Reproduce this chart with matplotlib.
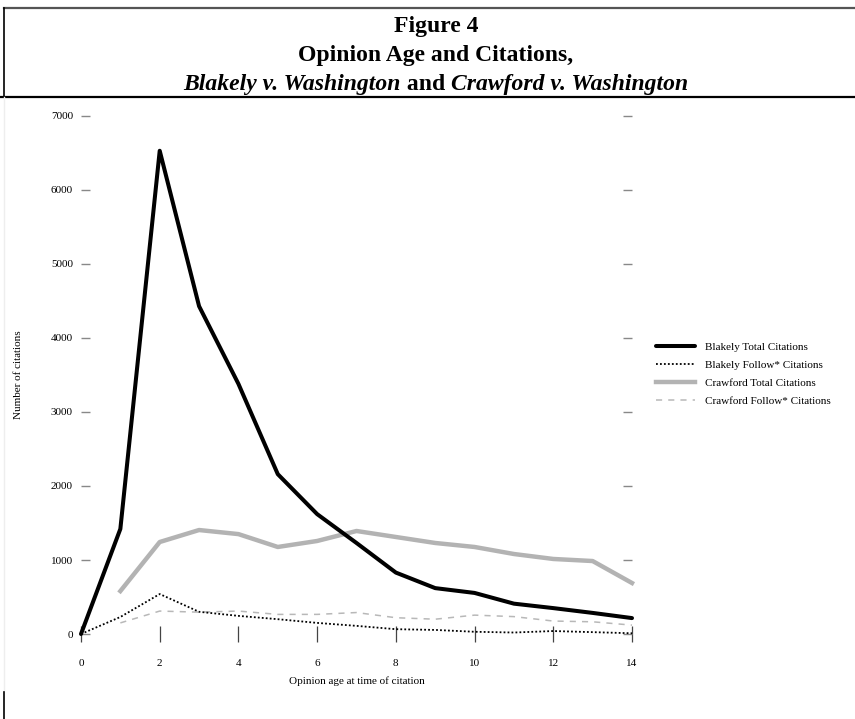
import matplotlib
matplotlib.use("Agg")
import matplotlib.pyplot as plt
from matplotlib.lines import Line2D

# ================================
# DATA
# ================================
age = list(range(0, 15))
age_crawford = list(range(1, 15))

blakely_total = [0, 1420, 6530, 4430, 3380, 2160, 1620, 1230, 830, 620, 555, 410, 350, 285, 215]
blakely_follow = [0, 230, 540, 300, 245, 200, 150, 110, 65, 55, 30, 20, 40, 25, 10]
crawford_total = [580, 1243, 1405, 1350, 1176, 1257, 1392, 1311, 1230, 1176, 1081, 1014, 986, 689]
crawford_follow = [150, 310, 295, 310, 265, 265, 290, 220, 200, 255, 235, 175, 165, 120]

series_labels = ["Blakely Total Citations", "Blakely Follow* Citations",
                 "Crawford Total Citations", "Crawford Follow* Citations"]
x_ticks = [0, 2, 4, 6, 8, 10, 12, 14]
y_ticks = [0, 1000, 2000, 3000, 4000, 5000, 6000, 7000]

W, H = 855, 719
serif = ["Liberation Serif", "DejaVu Serif"]
plt.rcParams["font.family"] = serif

fig = plt.figure(figsize=(W / 100, H / 100), dpi=100)

# axes placed in pixel terms: x 81..632, y 116..634
ax = fig.add_axes([81 / W, 1 - 634 / H, 551 / W, 518 / H])

ax.plot(age, blakely_total, color="black", lw=2.9, solid_joinstyle="round",
        solid_capstyle="round", clip_on=False, label=series_labels[0], zorder=4)
ax.plot(age, blakely_follow, color="black", lw=1.3, linestyle=(0, (1, 1.2)),
        clip_on=False, label=series_labels[1], zorder=3)
ax.plot(age_crawford, crawford_total, color="#b3b3b3", lw=3.2, solid_joinstyle="round",
        clip_on=False, label=series_labels[2], zorder=2)
ax.plot(age_crawford, crawford_follow, color="#b8b8b8", lw=1.1, linestyle=(0, (4, 4)),
        clip_on=False, label=series_labels[3], zorder=1)

ax.set_xlim(0, 14)
ax.set_ylim(0, 7000)
for s in ax.spines.values():
    s.set_visible(False)

ax.set_xticks(x_ticks)
ax.set_yticks(y_ticks)
ax.tick_params(axis="x", direction="inout", length=12.2, width=0.9, color="#444444",
               pad=12, labelsize=8)
ax.tick_params(axis="y", direction="in", length=6.5, width=1.0, color="#888888",
               pad=5.8, labelsize=8, left=True, right=True, labelright=False)

ax.set_xlabel("Opinion age at time of citation", fontsize=8, labelpad=6)
ax.set_ylabel("Number of citations", fontsize=8)
ax.yaxis.set_label_coords((23 - 81) / 551, 0.5)

leg = ax.legend(loc="upper left", bbox_to_anchor=(656 / W, 1 - 342 / H),
                bbox_transform=fig.transFigure, frameon=False, fontsize=8,
                handlelength=3.5, handletextpad=0.9, labelspacing=0.75,
                borderpad=0, borderaxespad=0)

# ================================
# TITLE BOX
# ================================
def fx(px):
    return px / W

def fy(py):
    return 1 - py / H

fig.add_artist(Line2D([fx(4), fx(855)], [fy(8), fy(8)], color="#555555", lw=1.6))
fig.add_artist(Line2D([fx(4), fx(4)], [fy(8), fy(97)], color="black", lw=1.2))
fig.add_artist(Line2D([fx(0), fx(855)], [fy(97), fy(97)], color="black", lw=1.6))
fig.add_artist(Line2D([fx(4), fx(4)], [fy(97), fy(690)], color="#eeeeee", lw=1.0))
fig.add_artist(Line2D([fx(4), fx(4)], [fy(692), fy(719)], color="black", lw=1.2))

cx = fx(436)
tsize = 17
fig.text(cx, fy(32), "Figure 4", ha="center", va="baseline", fontsize=tsize, fontweight="bold")
fig.text(cx, fy(61), "Opinion Age and Citations,", ha="center", va="baseline",
         fontsize=tsize, fontweight="bold")

# third line mixes italic and upright bold pieces
pieces = [("Blakely v. Washington", "italic"), (" and ", "normal"),
          ("Crawford v. Washington", "italic")]
renderer = fig.canvas.get_renderer()
texts = []
widths = []
for txt, style in pieces:
    t = fig.text(0, fy(90), txt, ha="left", va="baseline", fontsize=tsize,
                 fontweight="bold", fontstyle=style)
    bb = t.get_window_extent(renderer=renderer)
    texts.append(t)
    widths.append(bb.width)
total = sum(widths)
start = 436 - total / 2
for t, w in zip(texts, widths):
    t.set_x(fx(start))
    start += w

fig.savefig("out.png", dpi=100)
